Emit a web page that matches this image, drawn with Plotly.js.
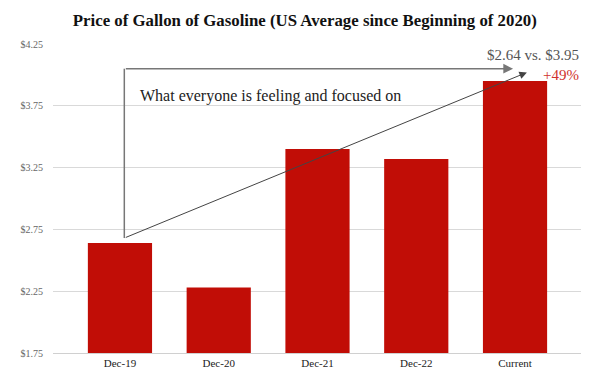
<!DOCTYPE html>
<html>
<head>
<meta charset="utf-8">
<script src="https://cdn.plot.ly/plotly-3.0.1.min.js"></script>
<style>html,body{margin:0;padding:0;background:#fff;}#chart{width:600px;height:385px;}</style>
</head>
<body>
<div id="chart"></div>
<script>
const categories = ["Dec-19", "Dec-20", "Dec-21", "Dec-22", "Current"];
const prices = [2.64, 2.28, 3.40, 3.32, 3.95];
const yTickVals = [1.75, 2.25, 2.75, 3.25, 3.75, 4.25];
const yTickText = ["$1.75", "$2.25", "$2.75", "$3.25", "$3.75", "$4.25"];
const titleText = "Price of Gallon of Gasoline (US Average since Beginning of 2020)";
const noteText = "What everyone is feeling and focused on";
const compareText = "$2.64 vs. $3.95";
const pctText = "+49%";

const serif = "'Liberation Serif', 'DejaVu Serif', serif";

const trace = {
  type: "bar",
  x: categories,
  y: prices,
  marker: { color: "#C10D06" },
  width: 0.65,
  hoverinfo: "x+y"
};

const layout = {
  width: 600,
  height: 385,
  margin: { l: 53, r: 19, t: 44, b: 32 },
  paper_bgcolor: "#fff",
  plot_bgcolor: "#fff",
  font: { family: serif },
  showlegend: false,
  title: {
    text: "<b>" + titleText + "</b>",
    font: { family: serif, size: 16.8, color: "#111" },
    x: 0.508, xanchor: "center",
    yref: "container", y: 0.948, yanchor: "middle"
  },
  xaxis: {
    type: "category",
    range: [-0.678, 4.668],
    showgrid: false,
    showline: true,
    linecolor: "#d0d0d0",
    linewidth: 1,
    ticks: "",
    tickfont: { family: serif, size: 11, color: "#222" },
    fixedrange: true
  },
  yaxis: {
    range: [1.75, 4.25],
    tickvals: yTickVals,
    ticktext: yTickText,
    showgrid: true,
    gridcolor: "#d9d9d9",
    gridwidth: 1,
    zeroline: false,
    showline: false,
    ticks: "",
    ticklabelstandoff: 9,
    tickfont: { family: serif, size: 10, color: "#666" },
    fixedrange: true
  },
  shapes: [
    { type: "line", xref: "x", yref: "y", x0: 0.044, x1: 0.044, y0: 2.68, y1: 4.05,
      line: { color: "#777", width: 1.5 } }
  ],
  annotations: [
    { xref: "x", yref: "y", axref: "x", ayref: "y",
      x: 3.98, y: 4.05, ax: 0.044, ay: 4.05, text: "",
      showarrow: true, arrowhead: 2, arrowsize: 1.3, arrowwidth: 1.5, arrowcolor: "#777" },
    { xref: "x", yref: "y", axref: "x", ayref: "y",
      x: 4.12, y: 4.02, ax: 0.044, ay: 2.68, text: "",
      showarrow: true, arrowhead: 2, arrowsize: 1.5, arrowwidth: 1, arrowcolor: "#444" },
    { xref: "x", yref: "y", x: 0.18, y: 3.83, xanchor: "left", yanchor: "middle",
      text: noteText, showarrow: false,
      font: { family: serif, size: 16, color: "#222" } },
    { xref: "paper", yref: "y", x: 1, y: 4.164, xanchor: "right", yanchor: "middle",
      text: compareText, showarrow: false,
      font: { family: serif, size: 15, color: "#555" } },
    { xref: "paper", yref: "y", x: 1, y: 4.0, xanchor: "right", yanchor: "middle",
      text: pctText, showarrow: false,
      font: { family: serif, size: 15, color: "#D0312D" } }
  ]
};

Plotly.newPlot("chart", [trace], layout, { displayModeBar: false, staticPlot: true });
</script>
</body>
</html>
